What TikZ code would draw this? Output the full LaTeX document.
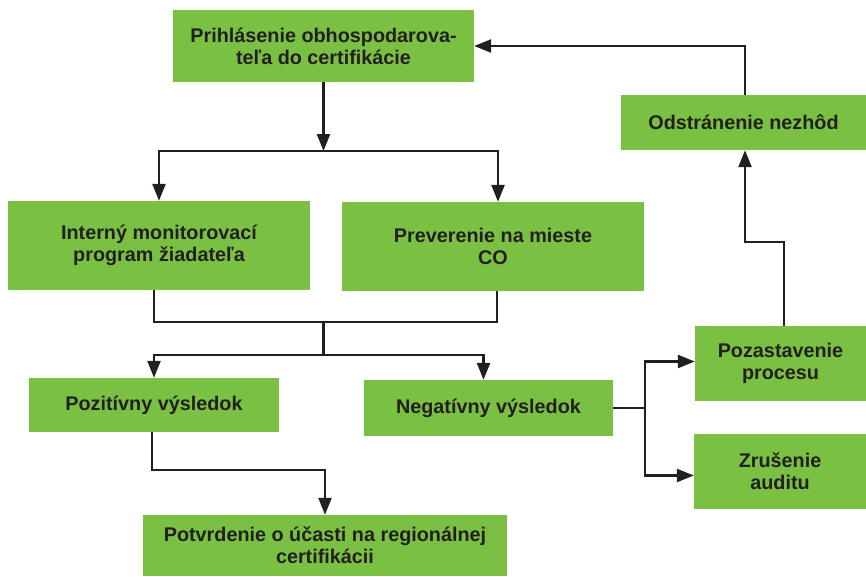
\documentclass[tikz,border=0pt]{standalone}
\usepackage{fontspec}
\setmainfont{Liberation Sans}
\usetikzlibrary{arrows.meta}
\definecolor{boxgreen}{HTML}{7AC143}
\definecolor{inkdark}{HTML}{231F20}

\begin{document}
\begin{tikzpicture}[x=1pt,y=-1pt,
  box/.style={fill=boxgreen,text=inkdark,align=center,inner sep=0pt,
    font=\fontsize{19.8}{22}\selectfont\bfseries},
  link/.style={draw=inkdark,line width=2.4pt},
  arr/.style={link,-{Triangle[length=17pt,width=13pt]}}]
\useasboundingbox (0,0) rectangle (866,576);
\node[box,minimum width=301,minimum height=72] (prihl) at (323.5,46) {Prihlásenie obhospodarova-\\teľa do certifikácie};
\node[box,minimum width=302,minimum height=89] (interny) at (159,245.5) {Interný monitorovací\\program žiadateľa};
\node[box,minimum width=302,minimum height=89] (prever) at (493,246.5) {Preverenie na mieste\\CO};
\node[box,minimum width=245,minimum height=55] (odstr) at (743.5,122.5) {Odstránenie nezhôd};
\node[box,minimum width=250,minimum height=54] (pozit) at (154,405) {Pozitívny výsledok};
\node[box,minimum width=249,minimum height=56] (negat) at (488.5,408) {Negatívny výsledok};
\node[box,minimum width=171,minimum height=75] (pozast) at (780.5,363.5) {Pozastavenie\\procesu};
\node[box,minimum width=172,minimum height=75] (zrus) at (780,471.5) {Zrušenie\\auditu};
\node[box,minimum width=364,minimum height=61] (potvr) at (325,545.5) {Potvrdenie o účasti na regionálnej\\certifikácii};
\coordinate (split1) at (323.5,151);
\coordinate (join1) at (323.5,322);
\coordinate (split2) at (323.5,355);
\coordinate (bend3) at (325,470);
\coordinate (split4) at (645,408);
\coordinate (bend5) at (745,242);
\draw[arr] (prihl.south) -- (split1);
\draw[arr] (split1) -| (interny.north);
\draw[arr] (split1) -| ([xshift=5pt]prever.north);
\draw[link] ([xshift=-5pt]interny.south) |- (join1) -| ([xshift=4pt]prever.south);
\draw[link] (join1) -- (split2);
\draw[arr] (split2) -| (pozit.north);
\draw[arr] (split2) -| ([xshift=-5pt]negat.north);
\draw[arr] ([xshift=-2pt]pozit.south) |- (bend3) -- (potvr.north);
\draw[link] (negat.east) -- (split4);
\draw[arr] (split4) |- ([yshift=2pt]pozast.west);
\draw[arr] (split4) |- ([yshift=-4pt]zrus.west);
\draw[arr] ([xshift=3.5pt]pozast.north) |- (bend5) -- ([xshift=1.5pt]odstr.south);
\draw[arr] ([xshift=1.5pt]odstr.north) |- (prihl.east);
\end{tikzpicture}
\end{document}
